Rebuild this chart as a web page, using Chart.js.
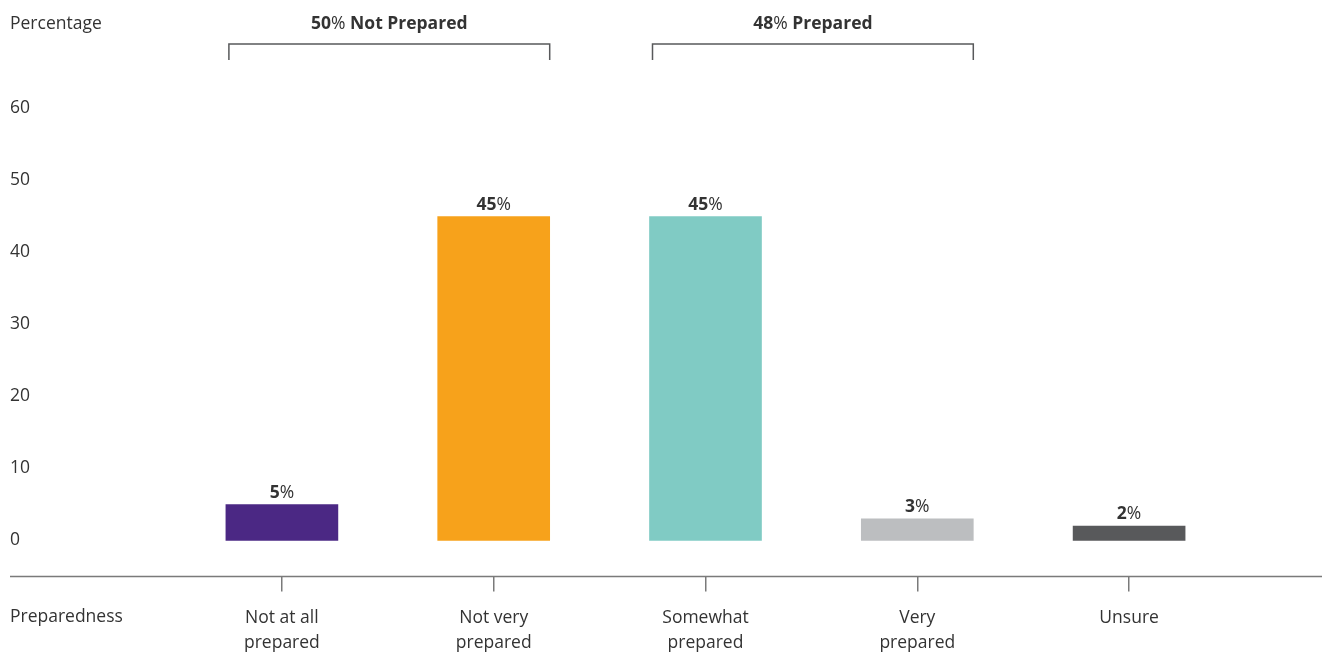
<!DOCTYPE html>
<html>
<head>
<meta charset="utf-8">
<script src="https://cdn.jsdelivr.net/npm/chart.js@4.4.1/dist/chart.umd.min.js"></script>
<style>
  body { margin: 0; background: #fff; }
  canvas { display: block; }
</style>
</head>
<body>
<canvas id="grafico" width="1325" height="652"></canvas>
<script>
// dados
const categorias = [["Not at all", "prepared"], ["Not very", "prepared"], ["Somewhat", "prepared"], ["Very", "prepared"], "Unsure"];
const valores = [5, 45, 45, 3, 2];
const cores = ["#4b2884", "#f7a21b", "#80cbc4", "#bcbec0", "#58595b"];
const ticksY = [0, 10, 20, 30, 40, 50, 60];
const grupos = [
  { nome: "Not Prepared", de: 0, ate: 1 },
  { nome: "Prepared", de: 2, ate: 3 },
];

const fonte = "'Open Sans'";
const tam = 17.5;
const corTexto = "#333333";
const corLinha = "#7a7a7a";

// desenha numero em negrito e % normal, centrado em x
function textoPct(ctx, num, resto, x, y) {
  const negrito = "bold " + tam + "px " + fonte;
  const normal = tam + "px " + fonte;
  ctx.font = negrito;
  const w1 = ctx.measureText(num).width;
  ctx.font = normal;
  const w2 = ctx.measureText("%").width;
  let w3 = 0;
  if (resto) {
    ctx.font = negrito;
    w3 = ctx.measureText(resto).width;
  }
  let x0 = x - (w1 + w2 + w3) / 2;
  ctx.textAlign = "left";
  ctx.font = negrito;
  ctx.fillText(num, x0, y);
  ctx.font = normal;
  ctx.fillText("%", x0 + w1, y);
  if (resto) {
    ctx.font = negrito;
    ctx.fillText(resto, x0 + w1 + w2, y);
  }
}

const extras = {
  id: "extras",
  afterDraw(chart) {
    const ctx = chart.ctx;
    const area = chart.chartArea;
    const barras = chart.getDatasetMeta(0).data;
    ctx.save();

    /* linha do eixo x */
    ctx.strokeStyle = corLinha;
    ctx.lineWidth = 1.5;
    ctx.beginPath();
    ctx.moveTo(10, area.bottom);
    ctx.lineTo(1322, area.bottom);
    ctx.stroke();

    /* textos fixos */
    ctx.fillStyle = corTexto;
    ctx.textBaseline = "alphabetic";
    ctx.textAlign = "left";
    ctx.font = tam + "px " + fonte;
    ctx.fillText("Percentage", 10, 29);
    ctx.textBaseline = "middle";
    ctx.fillText("Preparedness", 10, 617);

    /* rotulos das barras */
    ctx.textBaseline = "alphabetic";
    barras.forEach((b, i) => {
      textoPct(ctx, String(valores[i]), "", b.x, b.y - 7);
    });

    /* chaves dos grupos */
    grupos.forEach((g) => {
      const bA = barras[g.de];
      const bB = barras[g.ate];
      const x1 = bA.x - bA.width / 2 + 3;
      const x2 = bB.x + bB.width / 2;
      let total = 0;
      for (let i = g.de; i <= g.ate; i++) total += valores[i];
      ctx.strokeStyle = "#58595b";
      ctx.lineWidth = 1.5;
      ctx.beginPath();
      ctx.moveTo(x1, 60);
      ctx.lineTo(x1, 44);
      ctx.lineTo(x2, 44);
      ctx.lineTo(x2, 60);
      ctx.stroke();
      ctx.fillStyle = corTexto;
      textoPct(ctx, String(total), " " + g.nome, (x1 + x2) / 2, 29);
    });

    ctx.restore();
  },
};

const grafico = new Chart(document.getElementById("grafico").getContext("2d"), {
  type: "bar",
  data: {
    labels: categorias,
    datasets: [
      {
        data: valores,
        backgroundColor: cores,
        barThickness: 112,
      },
    ],
  },
  options: {
    responsive: false,
    animation: false,
    layout: {
      padding: { left: 10, right: 90, top: 108.5, bottom: 0 },
    },
    plugins: {
      legend: { display: false },
      tooltip: { enabled: false },
    },
    scales: {
      x: {
        border: { display: false },
        grid: {
          display: true,
          drawOnChartArea: false,
          drawTicks: true,
          tickLength: 15,
          offset: false,
          color: corLinha,
          lineWidth: 1.5,
        },
        ticks: {
          padding: 14,
          color: corTexto,
          maxRotation: 0,
          autoSkip: false,
          font: { family: fonte, size: tam, lineHeight: 1.42 },
        },
        afterFit: (s) => {
          s.height = 75.5;
        },
      },
      y: {
        min: -5,
        max: 60,
        afterBuildTicks: (s) => {
          s.ticks = ticksY.map((v) => ({ value: v }));
        },
        border: { display: false },
        grid: { display: false },
        ticks: {
          crossAlign: "far",
          padding: 0,
          color: corTexto,
          font: { family: fonte, size: tam },
        },
        afterFit: (s) => {
          s.width = 166;
        },
      },
    },
  },
  plugins: [extras],
});
</script>
</body>
</html>
